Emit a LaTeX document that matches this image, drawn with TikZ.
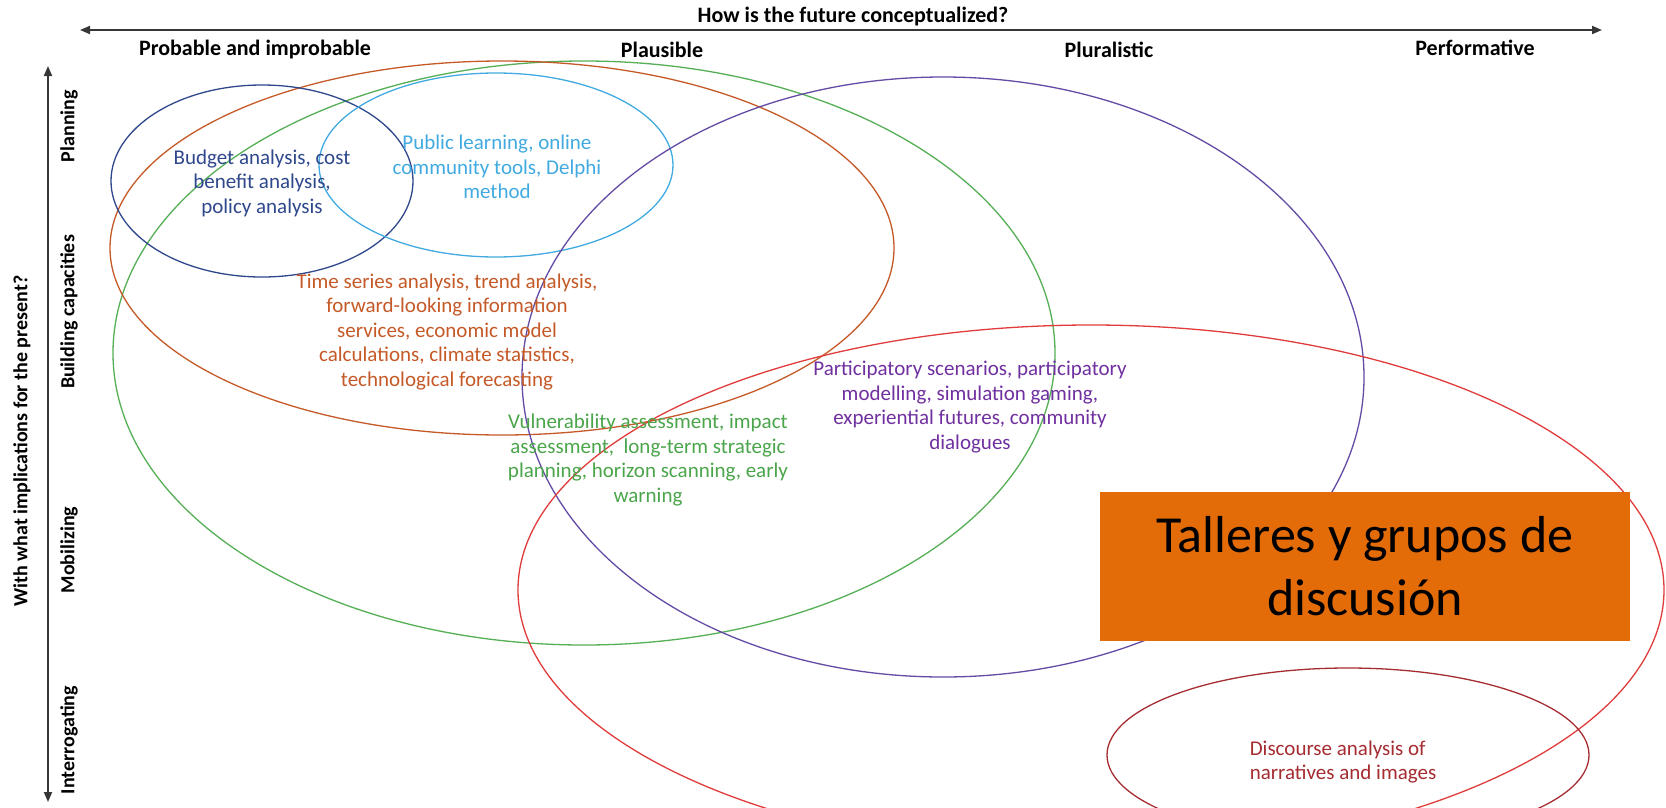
\documentclass[tikz,border=0pt]{standalone}
\usepackage{fontspec}
\setmainfont{Carlito}
\usetikzlibrary{arrows.meta,shapes.geometric}
\definecolor{cnavy}{RGB}{47,72,140}
\definecolor{csky}{RGB}{65,170,225}
\definecolor{cbrown}{RGB}{197,90,40}
\definecolor{cgreen}{RGB}{85,175,85}
\definecolor{cgreentext}{RGB}{75,165,75}
\definecolor{cpurple}{RGB}{100,75,165}
\definecolor{cpurpletext}{RGB}{112,48,160}
\definecolor{cred}{RGB}{225,60,60}
\definecolor{cdarkred}{RGB}{165,45,50}
\definecolor{cbox}{RGB}{227,108,9}
\definecolor{caxis}{RGB}{55,55,55}
\begin{document}
\begin{tikzpicture}[x=1pt,y=-1pt,
  ell/.style={draw,ellipse,line width=1.3pt,inner sep=0pt,outer sep=0pt},
  lbl/.style={align=center,inner sep=0pt,font=\fontsize{21}{24.5}\selectfont},
  axlbl/.style={inner sep=0pt,font=\fontsize{22}{26}\selectfont\bfseries},
  vlbl/.style={inner sep=0pt,rotate=90,font=\fontsize{20}{24}\selectfont\bfseries},
  axisline/.style={draw=caxis,line width=1.8pt,{Triangle[length=10pt,width=8pt]}-{Triangle[length=10pt,width=8pt]}}]
\useasboundingbox (0,0) rectangle (1666,807);
\clip (0,0) rectangle (1666,807);
\fill[white] (0,0) rectangle (1666,807);

% axes
\coordinate (hL) at (80,30);
\coordinate (hR) at (1602,30);
\coordinate (vT) at (48,66);
\coordinate (vB) at (48,802);
\draw[axisline] (hL) -- (hR);
\draw[axisline] (vT) -- (vB);

\node[axlbl] (title) at (853,17) {How is the future conceptualized?};
\node[axlbl] (c1) at (255,50) {Probable and improbable};
\node[axlbl] (c2) at (662,50) {Plausible};
\node[axlbl] (c3) at (1109,50) {Pluralistic};
\node[axlbl] (c4) at (1475,48) {Performative};

\node[vlbl] (vtitle) at (22,441) {With what implications for the present?};
\node[vlbl] (r1) at (69,126) {Planning};
\node[vlbl] (r2) at (69,312) {Building capacities};
\node[vlbl] (r3) at (69,550) {Mobilizing};
\node[vlbl] (r4) at (69,740) {Interrogating};

% ellipses
\node[ell,draw=cgreen,minimum width=942pt,minimum height=584pt] (eGreen) at (584,353) {};
\node[ell,draw=cbrown,minimum width=784pt,minimum height=374pt] (eBrown) at (502,248) {};
\node[ell,draw=cnavy,minimum width=302pt,minimum height=192pt] (eNavy) at (262,181) {};
\node[ell,draw=csky,minimum width=354pt,minimum height=184pt] (eSky) at (496,165) {};
\node[ell,draw=cpurple,minimum width=842pt,minimum height=600pt] (ePurple) at (943,377) {};
\node[ell,draw=cred,minimum width=1146pt,minimum height=530pt] (eRed) at (1091,590) {};
\node[ell,draw=cdarkred,minimum width=482pt,minimum height=174pt] (eDark) at (1348,755) {};

% texts
\node[lbl,text=cnavy] (tNavy) at (262,183) {Budget analysis, cost\\benefit analysis,\\policy analysis};
\node[lbl,text=csky] (tSky) at (497,167) {Public learning, online\\community tools, Delphi\\method};
\node[lbl,text=cbrown] (tBrown) at (447,332) {Time series analysis, trend analysis,\\forward-looking information\\services, economic model\\calculations, climate statistics,\\technological forecasting};
\node[lbl,text=cgreentext] (tGreen) at (648,460) {Vulnerability assessment, impact\\assessment,\ \ long-term strategic\\planning, horizon scanning, early\\warning};
\node[lbl,text=cpurpletext] (tPurple) at (970,407) {Participatory scenarios, participatory\\modelling, simulation gaming,\\experiential futures, community\\dialogues};
\node[lbl,align=left,text=cdarkred] (tDark) at (1343,762) {Discourse analysis of\\narratives and images};

% overlay box
\node[fill=cbox,minimum width=530pt,minimum height=149pt,inner sep=0pt,align=center,
  font=\fontsize{52}{63}\selectfont] (box) at (1365,566.5) {Talleres y grupos de\\discusión};
\end{tikzpicture}
\end{document}
